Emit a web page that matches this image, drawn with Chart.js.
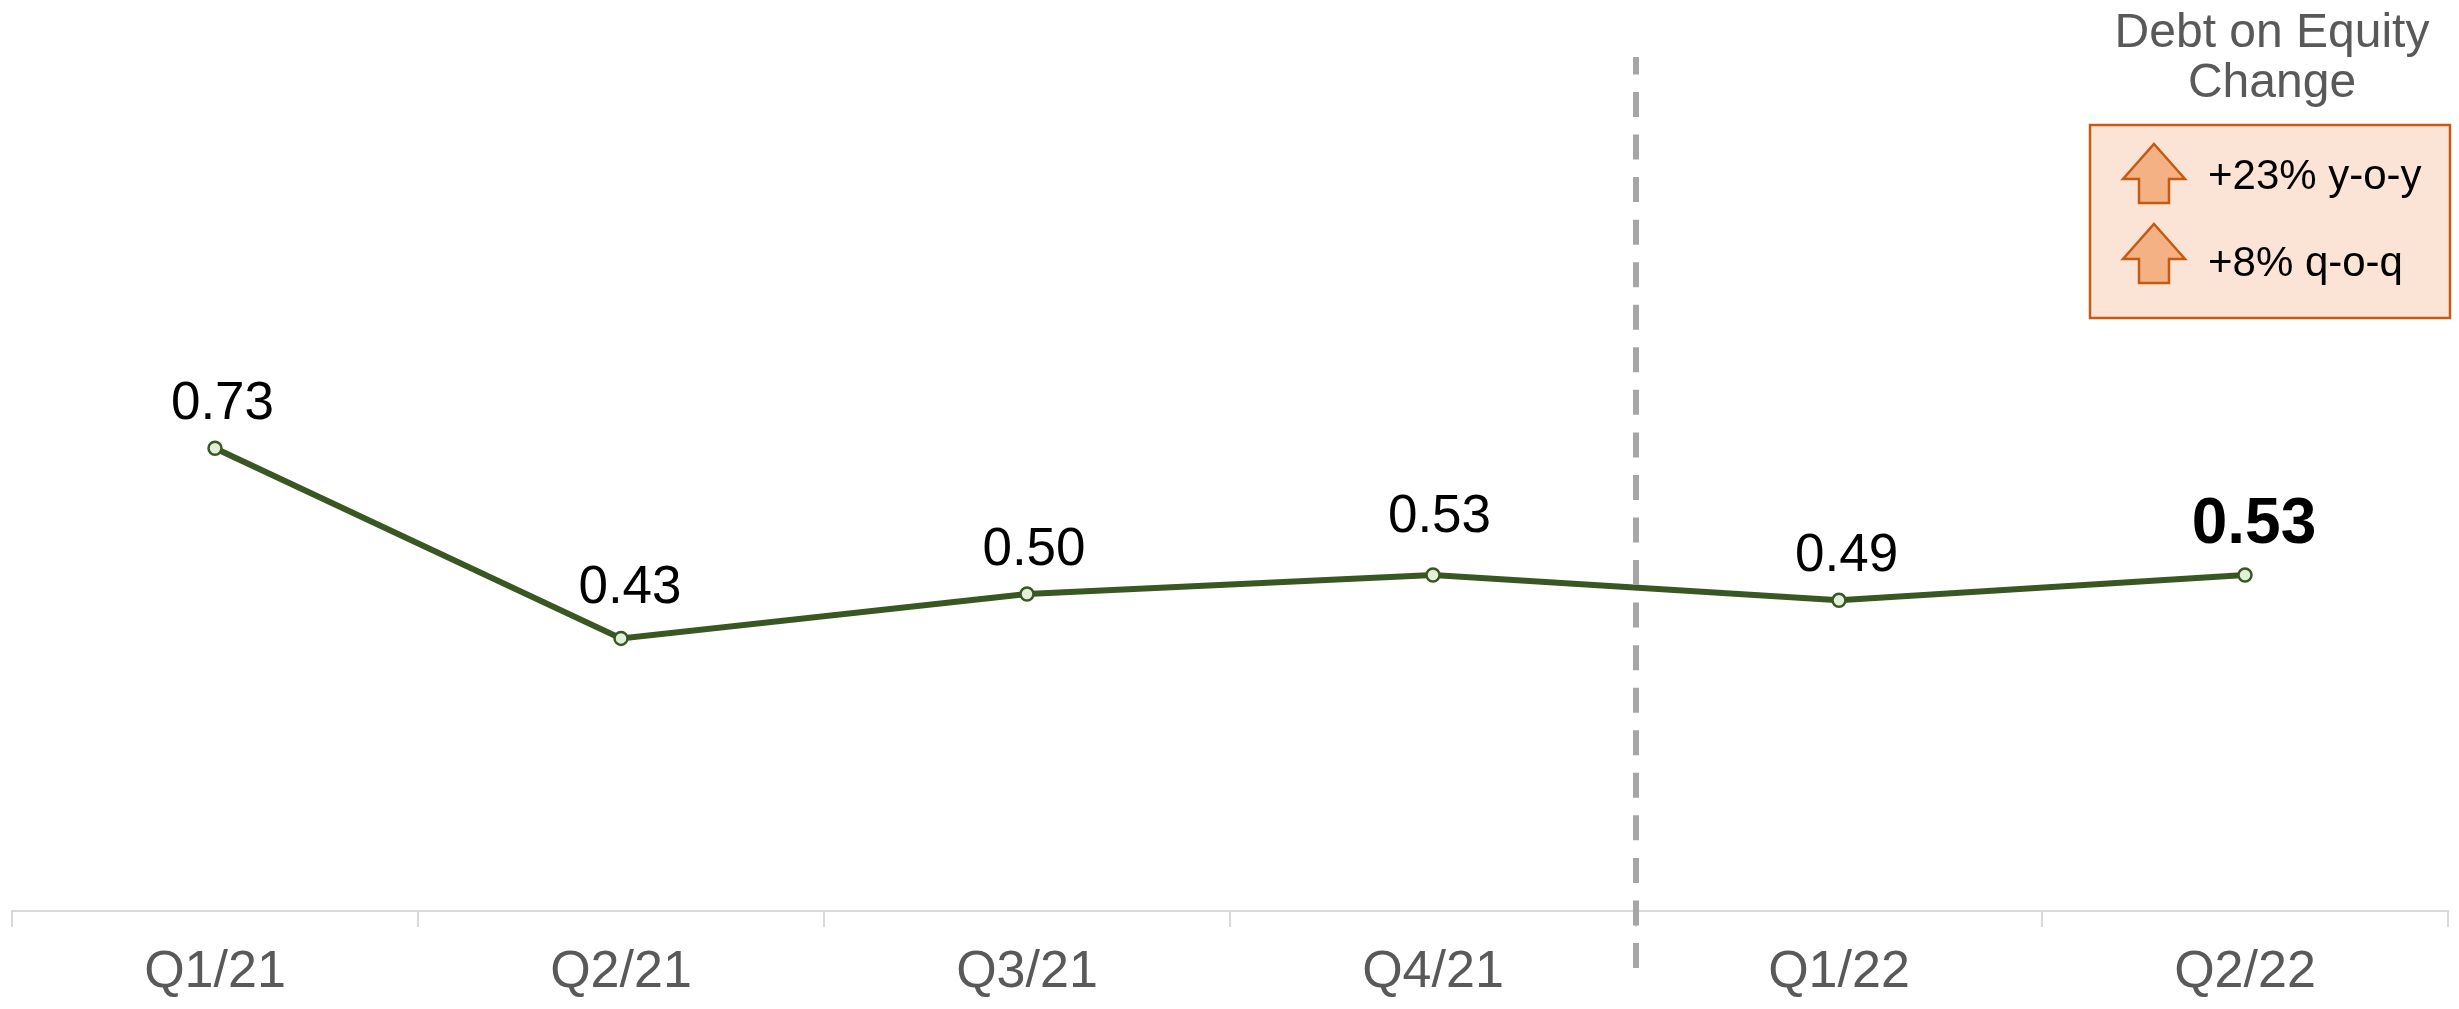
<!DOCTYPE html>
<html>
<head>
<meta charset="utf-8">
<script src="https://cdn.jsdelivr.net/npm/chart.js@4"></script>
<style>
html,body{margin:0;padding:0;background:#fff;overflow:hidden}
#wrap{position:absolute;left:0;top:0;width:2459px;height:1009px}
</style>
</head>
<body>
<div id="wrap"><canvas id="c" width="2459" height="1009"></canvas></div>
<script>
// Debt on equity by quarter
const quarters = ["Q1/21","Q2/21","Q3/21","Q4/21","Q1/22","Q2/22"];
const debtOnEquity = [0.73,0.43,0.50,0.53,0.49,0.53];
const valueLabels = ["0.73","0.43","0.50","0.53","0.49","0.53"];
const calloutTitle = ["Debt on Equity","Change"];
const calloutRows = ["+23% y-o-y","+8% q-o-q"];

const FONT = '"Liberation Sans", Arial, sans-serif';

// Hand placement of each value label relative to its point
const labelShiftX = [7.5, 9, 7, 6.5, 7.7, 9];
const labelShiftY = [29, 35, 29, 43, 29, 32];

// Value labels above each point; the latest quarter is emphasised
const valueLabelPlugin = {
  id: 'valueLabels',
  afterDatasetsDraw(chart) {
    const ctx = chart.ctx, pts = chart.getDatasetMeta(0).data;
    ctx.save();
    ctx.textAlign = 'center';
    ctx.textBaseline = 'alphabetic';
    ctx.fillStyle = '#000';
    pts.forEach((p, i) => {
      const last = i === pts.length - 1;
      ctx.font = (last ? 'bold 64px ' : '53px ') + FONT;
      ctx.fillText(valueLabels[i], p.x + labelShiftX[i], p.y - labelShiftY[i]);
    });
    ctx.restore();
  }
};

// Dashed divider between the 2021 and 2022 quarters
const dividerPlugin = {
  id: 'divider',
  afterDraw(chart) {
    const ctx = chart.ctx, x = chart.scales.x;
    const px = (x.getPixelForValue(3) + x.getPixelForValue(4)) / 2;
    ctx.save();
    ctx.strokeStyle = '#a6a6a6';
    ctx.lineWidth = 6;
    ctx.setLineDash([25, 17.55]);
    ctx.beginPath();
    ctx.moveTo(px, 968);
    ctx.lineTo(px, 57);
    ctx.stroke();
    ctx.restore();
  }
};

// Change callout in the top right corner
const calloutPlugin = {
  id: 'callout',
  afterDraw(chart) {
    const ctx = chart.ctx;
    ctx.save();
    ctx.textBaseline = 'alphabetic';
    ctx.fillStyle = '#595959';
    ctx.textAlign = 'center';
    ctx.font = '48px ' + FONT;
    ctx.fillText(calloutTitle[0], 2272, 47);
    ctx.fillText(calloutTitle[1], 2272, 97);

    ctx.fillStyle = '#fbe4d5';
    ctx.strokeStyle = '#c55a11';
    ctx.lineWidth = 2.5;
    ctx.fillRect(2090, 125, 360, 193);
    ctx.strokeRect(2090, 125, 360, 193);

    [144, 224].forEach((top, i) => {
      const cx = 2154;
      ctx.beginPath();
      ctx.moveTo(cx, top);
      ctx.lineTo(cx + 31, top + 35);
      ctx.lineTo(cx + 15, top + 35);
      ctx.lineTo(cx + 15, top + 59);
      ctx.lineTo(cx - 15, top + 59);
      ctx.lineTo(cx - 15, top + 35);
      ctx.lineTo(cx - 31, top + 35);
      ctx.closePath();
      ctx.fillStyle = '#f4b183';
      ctx.fill();
      ctx.stroke();
      ctx.fillStyle = '#000';
      ctx.textAlign = 'left';
      ctx.font = '42px ' + FONT;
      ctx.fillText(calloutRows[i], 2208, i === 0 ? 189 : 275.5);
    });
    ctx.restore();
  }
};

new Chart(document.getElementById('c'), {
  type: 'line',
  data: {
    labels: quarters,
    datasets: [{
      data: debtOnEquity,
      borderColor: '#385723',
      borderWidth: 6,
      tension: 0,
      pointRadius: 6.5,
      pointBorderWidth: 2.5,
      pointBackgroundColor: '#e2efd9',
      pointBorderColor: '#385723'
    }]
  },
  options: {
    responsive: false,
    animation: false,
    layout: { padding: { left: 12, right: 11, top: 23.4, bottom: 0 } },
    plugins: { legend: { display: false }, tooltip: { enabled: false } },
    scales: {
      x: {
        offset: true,
        afterFit(s) { s.height = 98; },
        grid: { offset: true, drawOnChartArea: false, drawTicks: true, tickLength: 16, color: '#d9d9d9', lineWidth: 2 },
        border: { color: '#d9d9d9', width: 2 },
        ticks: { color: '#595959', font: { family: FONT, size: 52 }, padding: 14, maxRotation: 0 }
      },
      y: {
        display: false,
        min: 0,
        max: 1.4
      }
    }
  },
  plugins: [valueLabelPlugin, dividerPlugin, calloutPlugin]
});
</script>
</body>
</html>
